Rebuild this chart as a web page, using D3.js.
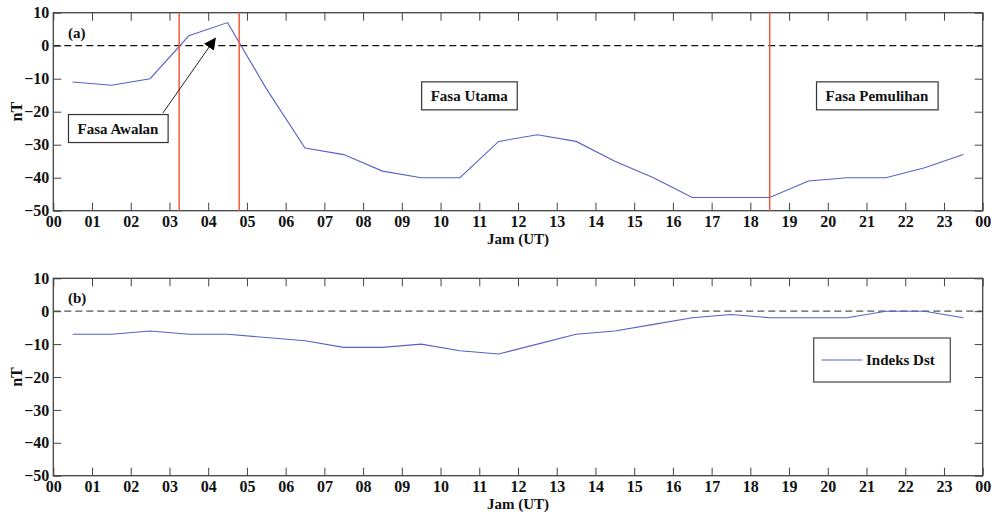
<!DOCTYPE html>
<html>
<head>
<meta charset="utf-8">
<script src="https://cdn.jsdelivr.net/npm/d3@7"></script>
<style>
  body { margin: 0; background: #fff; }
</style>
</head>
<body>
<div id="chart"></div>
<script>
// hourly values, plotted at the half hour
const hours = [0.5, 1.5, 2.5, 3.5, 4.5, 5.5, 6.5, 7.5, 8.5, 9.5, 10.5, 11.5,
               12.5, 13.5, 14.5, 15.5, 16.5, 17.5, 18.5, 19.5, 20.5, 21.5, 22.5, 23.5];
const hComp = [-11, -12, -10, 3, 7, -13, -31, -33, -38, -40, -40, -29,
               -27, -29, -35, -40, -46, -46, -46, -41, -40, -40, -37, -33];
const dst = [-7, -7, -6, -7, -7, -8, -9, -11, -11, -10, -12, -13,
             -10, -7, -6, -4, -2, -1, -2, -2, -2, 0, 0, -2];
const phaseLines = [3.25, 4.8, 18.5];
const hourTicks = [0, 1, 2, 3, 4, 5, 6, 7, 8, 9, 10, 11, 12, 13, 14, 15, 16, 17, 18, 19, 20, 21, 22, 23, 24];
const hourLabels = ["00", "01", "02", "03", "04", "05", "06", "07", "08", "09", "10", "11",
                    "12", "13", "14", "15", "16", "17", "18", "19", "20", "21", "22", "23", "00"];
const yTicks = [10, 0, -10, -20, -30, -40, -50];

const FONT = "'Liberation Serif', 'Times New Roman', serif";
const W = 991, H = 513;
const svg = d3.select("#chart").append("svg")
    .attr("width", W)
    .attr("height", H);

const x = d3.scaleLinear().domain([0, 24]).range([53.3, 982.7]);

svg.append("defs").append("marker")
    .attr("id", "arrow")
    .attr("viewBox", "0 0 10 10")
    .attr("refX", 9).attr("refY", 5)
    .attr("markerWidth", 12).attr("markerHeight", 12)
    .attr("markerUnits", "userSpaceOnUse")
    .attr("orient", "auto")
  .append("path")
    .attr("d", "M0,0 L10,5 L0,10 z")
    .attr("fill", "#000");

function styleText(sel, size) {
    return sel.style("font-family", FONT)
        .style("font-weight", "bold")
        .style("font-size", (size || 15) + "px")
        .attr("fill", "#111");
}

function panel(top, bottom, values, tag, zeroColor) {
    const y = d3.scaleLinear().domain([-50, 10]).range([bottom, top]);
    const g = svg.append("g");

    // zero line
    g.append("line")
        .attr("x1", x(0)).attr("x2", x(24))
        .attr("y1", y(0)).attr("y2", y(0))
        .attr("stroke", zeroColor)
        .attr("stroke-width", 1.2)
        .attr("stroke-dasharray", "7,4");

    const tickFmt = (d, i) => hourLabels[i];
    const ax = [
        g.append("g").attr("transform", `translate(0,${bottom})`)
            .call(d3.axisBottom(x).tickValues(hourTicks).tickFormat(tickFmt).tickSizeInner(-8).tickSizeOuter(0).tickPadding(5)),
        g.append("g").attr("transform", `translate(0,${top})`)
            .call(d3.axisTop(x).tickValues(hourTicks).tickFormat("").tickSizeInner(-8).tickSizeOuter(0)),
        g.append("g").attr("transform", `translate(${x(0)},0)`)
            .call(d3.axisLeft(y).tickValues(yTicks).tickSizeInner(-8).tickSizeOuter(0).tickPadding(4)),
        g.append("g").attr("transform", `translate(${x(24)},0)`)
            .call(d3.axisRight(y).tickValues(yTicks).tickFormat("").tickSizeInner(-8).tickSizeOuter(0))
    ];
    ax.forEach(a => {
        a.select(".domain").remove();
        a.selectAll(".tick line").attr("stroke", "#444");
        styleText(a.selectAll("text"), 16);
    });

    g.append("rect")
        .attr("x", x(0)).attr("y", top)
        .attr("width", x(24) - x(0)).attr("height", bottom - top)
        .attr("fill", "none").attr("stroke", "#444").attr("stroke-width", 1.3);

    const line = d3.line().x((d, i) => x(hours[i])).y(d => y(d));
    g.append("path")
        .datum(values)
        .attr("d", line)
        .attr("fill", "none")
        .attr("stroke", "#5862c4")
        .attr("stroke-width", 1.1);

    styleText(g.append("text")
        .attr("x", x(0.38)).attr("y", y(2.4))
        .text(tag));

    styleText(g.append("text")
        .attr("transform", `translate(22,${(top + bottom) / 2}) rotate(-90)`)
        .attr("text-anchor", "middle")
        .text("nT"), 16);

    styleText(g.append("text")
        .attr("x", (x(0) + x(24)) / 2).attr("y", bottom + 33)
        .attr("text-anchor", "middle")
        .text("Jam (UT)"));

    return { g, y };
}

function labelBox(g, cx, cy, txt) {
    const bg = g.append("g");
    const r = bg.append("rect");
    const t = styleText(bg.append("text")
        .attr("x", cx).attr("y", cy)
        .attr("text-anchor", "middle")
        .attr("dy", "0.35em")
        .text(txt));
    const b = t.node().getBBox();
    r.attr("x", b.x - 9).attr("y", cy - 14)
        .attr("width", b.width + 18).attr("height", 28)
        .attr("fill", "#fff").attr("stroke", "#333").attr("stroke-width", 1.2);
}

// top panel: H component
const p1 = panel(12.7, 210.7, hComp, "(a)", "#111");
p1.g.selectAll(".phase")
    .data(phaseLines)
    .enter().append("line")
    .attr("class", "phase")
    .attr("x1", d => x(d)).attr("x2", d => x(d))
    .attr("y1", p1.y(10)).attr("y2", p1.y(-50))
    .attr("stroke", "#f05a3c")
    .attr("stroke-width", 1.5);

p1.g.append("line")
    .attr("x1", x(2.83)).attr("y1", p1.y(-20.4))
    .attr("x2", x(4.18)).attr("y2", p1.y(2.2))
    .attr("stroke", "#222").attr("stroke-width", 1)
    .attr("marker-end", "url(#arrow)");

labelBox(p1.g, x(1.67), p1.y(-25.1), "Fasa Awalan");
labelBox(p1.g, x(10.74), p1.y(-15.2), "Fasa Utama");
labelBox(p1.g, x(21.27), p1.y(-15.2), "Fasa Pemulihan");

// bottom panel: Dst index
const p2 = panel(278.3, 475.7, dst, "(b)", "#555");
const lg = p2.g.append("g");
lg.append("rect")
    .attr("x", 813.7).attr("y", 338)
    .attr("width", 136.6).attr("height", 44)
    .attr("fill", "#fff").attr("stroke", "#444").attr("stroke-width", 1.2);
lg.append("line")
    .attr("x1", 821.7).attr("x2", 862.3)
    .attr("y1", 360).attr("y2", 360)
    .attr("stroke", "#5862c4").attr("stroke-width", 1.1);
styleText(lg.append("text")
    .attr("x", 866).attr("y", 365)
    .text("Indeks Dst"));
</script>
</body>
</html>
